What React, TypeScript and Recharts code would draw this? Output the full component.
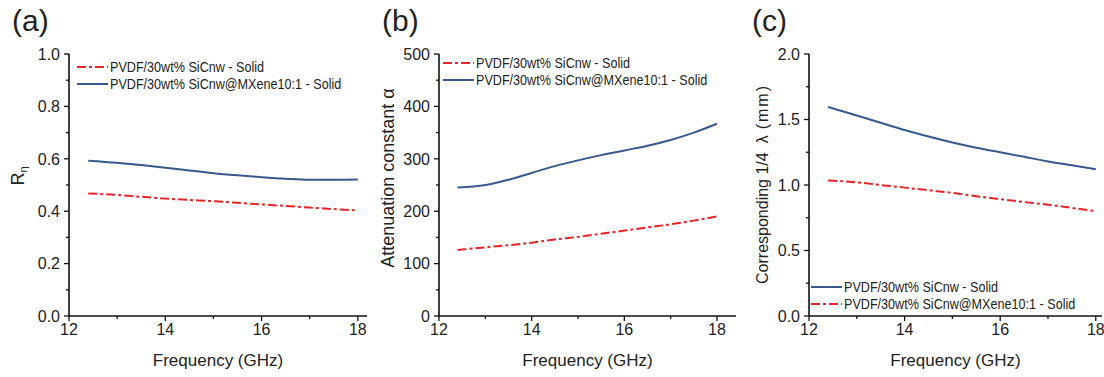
import React from "react";
import { LineChart, Line, XAxis, YAxis, Legend, Label } from "recharts";

// ── data ──────────────────────────────────────────────────────────────────────

const FREQ = [12.4, 13, 13.5, 14, 14.5, 15, 15.5, 16, 16.5, 17, 17.5, 18];

// (a) R_eta
const RN_SICNW = [0.468, 0.462, 0.455, 0.448, 0.443, 0.438, 0.432, 0.426, 0.42, 0.414, 0.408, 0.403];
const RN_MXENE = [0.593, 0.585, 0.576, 0.566, 0.555, 0.545, 0.537, 0.53, 0.524, 0.52, 0.52, 0.521];

// (b) attenuation constant
const ATT_SICNW = [126, 131, 135, 140, 146, 151, 157, 163, 169, 175, 182, 190];
const ATT_MXENE = [245, 250, 260, 273, 286, 297, 307, 316, 325, 336, 350, 367];

// (c) quarter wavelength thickness (mm)
const QW_SICNW = [1.595, 1.53, 1.475, 1.42, 1.37, 1.325, 1.285, 1.25, 1.215, 1.18, 1.15, 1.12];
const QW_MXENE = [1.035, 1.02, 1.0, 0.98, 0.96, 0.94, 0.915, 0.892, 0.87, 0.85, 0.825, 0.8];

const X_TICKS = [12, 13, 14, 15, 16, 17, 18];
const X_MAJOR = [12, 14, 16, 18];
const RN_TICKS = [0, 0.1, 0.2, 0.3, 0.4, 0.5, 0.6, 0.7, 0.8, 0.9, 1.0];
const RN_MAJOR = [0, 0.2, 0.4, 0.6, 0.8, 1.0];
const ATT_TICKS = [0, 50, 100, 150, 200, 250, 300, 350, 400, 450, 500];
const ATT_MAJOR = [0, 100, 200, 300, 400, 500];
const QW_TICKS = [0, 0.25, 0.5, 0.75, 1.0, 1.25, 1.5, 1.75, 2.0];
const QW_MAJOR = [0, 0.5, 1.0, 1.5, 2.0];

const NAME_SICNW = "PVDF/30wt% SiCnw - Solid";
const NAME_MXENE = "PVDF/30wt% SiCnw@MXene10:1 - Solid";

// ── styling ───────────────────────────────────────────────────────────────────

const FONT = '"Liberation Sans", Arial, sans-serif';
const BLUE = "#39598c";
const RED = "#e5252a";
const INK = "#222";
const AXIS = { stroke: "#111", strokeWidth: 1.6 };
const DASHDOT = "9 3 3 3";
const TICK = 5;
const MINOR = 3;
const XMARGIN = 3;
const YMARGIN = 4;

const isMajor = (major: number[], v: number) => major.some((m) => Math.abs(m - v) < 1e-6);

function xTick(major: number[]) {
  return (p: any) => {
    const v = p.payload.value;
    const big = isMajor(major, v);
    const y0 = p.y - TICK - XMARGIN;
    return (
      <g>
        <line x1={p.x} x2={p.x} y1={y0} y2={y0 + (big ? TICK : MINOR)} stroke="#111" strokeWidth={1.3} />
        {big && (
          <text x={p.x} y={p.y} dy="0.71em" textAnchor="middle" fontSize={16} fill={INK} fontFamily={FONT}>
            {v}
          </text>
        )}
      </g>
    );
  };
}

function yTick(major: number[], fmt: (v: number) => string) {
  return (p: any) => {
    const v = p.payload.value;
    const big = isMajor(major, v);
    const x0 = p.x + TICK + YMARGIN;
    return (
      <g>
        <line x1={x0 - (big ? TICK : MINOR)} x2={x0} y1={p.y} y2={p.y} stroke="#111" strokeWidth={1.3} />
        {big && (
          <text x={p.x} y={p.y} dy="0.36em" textAnchor="end" fontSize={16} fill={INK} fontFamily={FONT}>
            {fmt(v)}
          </text>
        )}
      </g>
    );
  };
}

const xLabel = ({ viewBox }: any) => (
  <text
    x={viewBox.x + viewBox.width / 2}
    y={viewBox.y + 50}
    textAnchor="middle"
    fontSize={17}
    fill={INK}
    fontFamily={FONT}
  >
    Frequency (GHz)
  </text>
);

function yLabel(dx: number, cy: number, body: React.ReactNode, size = 17) {
  return ({ viewBox }: any) => {
    const cx = viewBox.x + dx;
    return (
      <text
        x={cx}
        y={cy}
        transform={`rotate(-90, ${cx}, ${cy})`}
        textAnchor="middle"
        dominantBaseline="central"
        fontSize={size}
        fill={INK}
        fontFamily={FONT}
      >
        {body}
      </text>
    );
  };
}

type Series = { key: string; name: string; color: string; dash?: string };

// legend text in the figure is a narrow face: full height, ~90% width
const legendContent = (series: Series[]) => () => (
  <div style={{ fontFamily: FONT, fontSize: 14, color: INK }}>
    {series.map((s) => (
      <div
        key={s.key}
        style={{ display: "flex", alignItems: "center", whiteSpace: "nowrap", height: 16.5, lineHeight: "16.5px" }}
      >
        <svg width={31} height={6} style={{ marginRight: 2, display: "block" }}>
          <line x1={0} x2={31} y1={3} y2={3} stroke={s.color} strokeWidth={2} strokeDasharray={s.dash} />
        </svg>
        <span style={{ display: "inline-block", transform: "scaleX(0.9)", transformOrigin: "0 50%" }}>{s.name}</span>
      </div>
    ))}
  </div>
);

type PanelProps = {
  width: number;
  xMax: number;
  rightMargin: number;
  red: number[];
  blue: number[];
  series: Series[];
  yDomain: [number, number];
  yTicks: number[];
  yMajor: number[];
  yFmt: (v: number) => string;
  label: (p: any) => React.ReactNode;
  legendPos: { top: number; left: number };
};

function Panel(p: PanelProps) {
  const rows = FREQ.map((f, i) => ({ f, red: p.red[i], blue: p.blue[i] }));
  return (
    <LineChart width={p.width} height={377} data={rows} margin={{ top: 54, right: p.rightMargin, bottom: 0, left: 0 }}>
      <XAxis
        xAxisId="b"
        dataKey="f"
        type="number"
        domain={[12, p.xMax]}
        ticks={X_TICKS}
        interval={0}
        tick={xTick(X_MAJOR)}
        tickLine={false}
        tickSize={TICK}
        tickMargin={XMARGIN}
        height={61}
        axisLine={AXIS}
        allowDataOverflow
      >
        <Label content={xLabel} />
      </XAxis>
      <XAxis xAxisId="t" orientation="top" dataKey="f" type="number" domain={[12, p.xMax]} tick={false} tickLine={false} height={0} axisLine={AXIS} allowDataOverflow />
      <YAxis
        yAxisId="l"
        type="number"
        domain={p.yDomain}
        ticks={p.yTicks}
        interval={0}
        tick={yTick(p.yMajor, p.yFmt)}
        tickLine={false}
        tickSize={TICK}
        tickMargin={YMARGIN}
        width={69}
        axisLine={AXIS}
        allowDataOverflow
      >
        <Label content={p.label} />
      </YAxis>
      <YAxis yAxisId="r" orientation="right" type="number" domain={p.yDomain} tick={false} tickLine={false} width={0} axisLine={AXIS} allowDataOverflow />
      <Legend
        layout="vertical"
        align="center"
        verticalAlign="middle"
        content={legendContent(p.series)}
        wrapperStyle={{ top: p.legendPos.top, left: p.legendPos.left, width: "auto" }}
      />
      {p.series.map((s) => (
        <Line
          key={s.key}
          xAxisId="b"
          yAxisId="l"
          dataKey={s.key}
          name={s.name}
          type="monotone"
          stroke={s.color}
          strokeWidth={2}
          strokeDasharray={s.dash}
          dot={false}
          isAnimationActive={false}
        />
      ))}
    </LineChart>
  );
}

const fix1 = (v: number) => v.toFixed(1);
const int = (v: number) => String(v);

const PANEL_LABEL: React.CSSProperties = {
  position: "absolute",
  top: 5,
  fontSize: 30,
  fontFamily: FONT,
  color: INK,
  lineHeight: "32px",
};

export default function App() {
  return (
    <div
      style={{
        position: "absolute",
        left: 0,
        top: 0,
        width: 1104,
        height: 377,
        background: "#fff",
        overflow: "hidden",
        fontFamily: FONT,
      }}
    >
      <div style={{ position: "absolute", left: 0, top: 0 }}>
        <Panel
          width={370}
          xMax={18.19}
          rightMargin={3}
          red={RN_SICNW}
          blue={RN_MXENE}
          series={[
            { key: "red", name: NAME_SICNW, color: RED, dash: DASHDOT },
            { key: "blue", name: NAME_MXENE, color: BLUE },
          ]}
          yDomain={[0, 1]}
          yTicks={RN_TICKS}
          yMajor={RN_MAJOR}
          yFmt={fix1}
          label={yLabel(
            18,
            176,
            <>
              R
              <tspan fontSize={11} dy={5}>
                η
              </tspan>
            </>,
            18
          )}
          legendPos={{ top: 59, left: 77 }}
        />
      </div>
      <div style={{ position: "absolute", left: 370, top: 0 }}>
        <Panel
          width={368}
          xMax={18.41}
          rightMargin={2}
          red={ATT_SICNW}
          blue={ATT_MXENE}
          series={[
            { key: "red", name: NAME_SICNW, color: RED, dash: DASHDOT },
            { key: "blue", name: NAME_MXENE, color: BLUE },
          ]}
          yDomain={[0, 500]}
          yTicks={ATT_TICKS}
          yMajor={ATT_MAJOR}
          yFmt={int}
          label={yLabel(18, 178, "Attenuation constant α", 18)}
          legendPos={{ top: 55, left: 73 }}
        />
      </div>
      <div style={{ position: "absolute", left: 740, top: 0 }}>
        <Panel
          width={364}
          xMax={18.13}
          rightMargin={2}
          red={QW_MXENE}
          blue={QW_SICNW}
          series={[
            { key: "blue", name: NAME_SICNW, color: BLUE },
            { key: "red", name: NAME_MXENE, color: RED, dash: DASHDOT },
          ]}
          yDomain={[0, 2]}
          yTicks={QW_TICKS}
          yMajor={QW_MAJOR}
          yFmt={fix1}
          label={yLabel(
            22,
            184,
            <>
              Corresponding 1/4
              <tspan dx={9}>λ</tspan>
              <tspan dx={6} letterSpacing={2}>
                (mm)
              </tspan>
            </>,
            16
          )}
          legendPos={{ top: 279, left: 71 }}
        />
      </div>
      <div style={{ ...PANEL_LABEL, left: 12 }}>(a)</div>
      <div style={{ ...PANEL_LABEL, left: 382 }}>(b)</div>
      <div style={{ ...PANEL_LABEL, left: 752 }}>(c)</div>
    </div>
  );
}
